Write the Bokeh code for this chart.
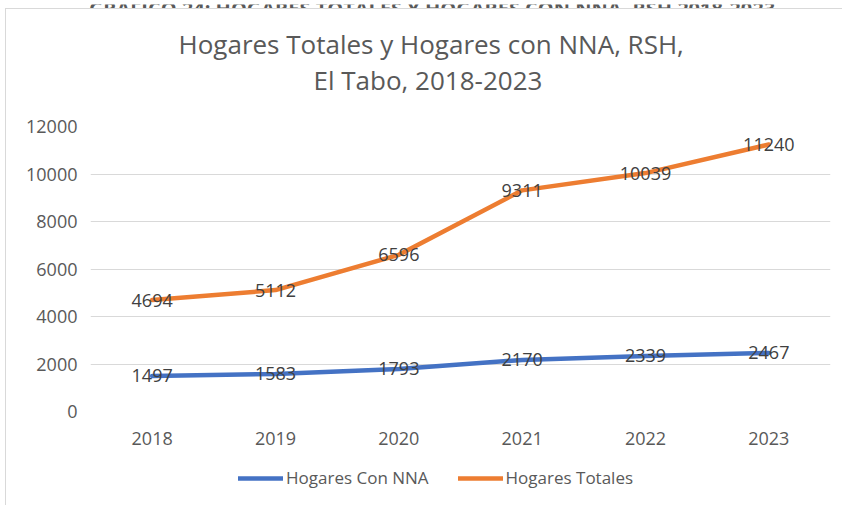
from bokeh.plotting import figure
from bokeh.layouts import column
from bokeh.models import Range1d, ColumnDataSource, Legend, LegendItem, Title
from bokeh.core.properties import value
from bokeh.embed import file_html
from bokeh.resources import INLINE

years = ["2018", "2019", "2020", "2021", "2022", "2023"]
hogares_nna = [1497, 1583, 1793, 2170, 2339, 2467]
hogares_totales = [4694, 5112, 6596, 9311, 10039, 11240]
y_ticks = [0, 2000, 4000, 6000, 8000, 10000, 12000]
doc_caption = "GRÁFICO 24: HOGARES TOTALES Y HOGARES CON NNA, RSH 2018-2023"
title_lines = ["Hogares Totales y Hogares con NNA, RSH,", "El Tabo, 2018-2023"]
series_names = ["Hogares Con NNA", "Hogares Totales"]

FONT = "Open Sans"
BLUE = "#4472C4"
ORANGE = "#ED7D31"
GRAY = "#595959"
BORDER = "1px solid #d9d9d9"

# --- strip above the chart box: document caption, cut off at the page top ---
cap = figure(width=837, height=8, x_range=Range1d(0, 1), y_range=Range1d(0, 1),
             x_axis_type=None, y_axis_type=None, output_backend="svg", toolbar_location=None,
             min_border=0)
cap.styles = {"margin-left": "5px"}
cap.outline_line_color = None
cap.background_fill_color = "white"
cap.border_fill_color = "white"
cap.xgrid.grid_line_color = None
cap.ygrid.grid_line_color = None
cap.text(x=[0.4628], y=[0.45], text=[doc_caption], text_align="center", text_baseline="alphabetic",
         text_font=value(FONT), text_font_size="20px", text_font_style="bold", text_color=GRAY)

# --- main chart ---
p = figure(width=837, height=447, x_range=years, y_range=Range1d(0, 12000),
           output_backend="svg", toolbar_location=None,
           min_border_left=84, min_border_right=13, min_border_top=117, min_border_bottom=45)
p.styles = {"border-left": BORDER, "border-top": BORDER, "margin-left": "5px"}
p.outline_line_color = None
p.background_fill_color = "white"
p.border_fill_color = "white"

p.xgrid.grid_line_color = None
p.ygrid.grid_line_color = "#d9d9d9"
p.ygrid.grid_line_width = 1
p.yaxis.ticker = y_ticks
for ax in (p.xaxis[0], p.yaxis[0]):
    ax.axis_line_color = None
    ax.major_tick_line_color = None
    ax.minor_tick_line_color = None
    ax.major_label_text_font = FONT
    ax.major_label_text_font_size = "18px"
    ax.major_label_text_color = GRAY
p.yaxis.major_label_standoff = 7
p.xaxis.major_label_standoff = 14

src = ColumnDataSource(dict(x=years, nna=hogares_nna, tot=hogares_totales,
                            nna_t=[str(v) for v in hogares_nna],
                            tot_t=[str(v) for v in hogares_totales]))

line_kw = dict(line_width=4.5, line_join="round", line_cap="round")
p.line("x", "nna", source=src, line_color=BLUE, **line_kw)
p.line("x", "tot", source=src, line_color=ORANGE, **line_kw)

for col, tcol in (("nna", "nna_t"), ("tot", "tot_t")):
    p.text(x="x", y=col, text=tcol, source=src, text_align="center", text_baseline="middle",
           text_font=value(FONT), text_font_size="18px", text_color="#404040")

# title: first added sits nearest the frame
for txt, so, off in ((title_lines[1], 58, 223), (title_lines[0], -62, 88)):
    p.add_layout(Title(text=txt, align="left", offset=off, standoff=so, text_font=FONT,
                       text_font_size="26px", text_font_style="normal", text_color=GRAY), "above")

# --- legend strip below the chart (series drawn out of view, used as legend keys) ---
lg = figure(width=837, height=50, x_range=years, y_range=Range1d(-2, -1),
            x_axis_type=None, y_axis_type=None, output_backend="svg", toolbar_location=None,
            min_border=0)
lg.styles = {"border-left": BORDER, "margin-left": "5px"}
lg.outline_line_color = None
lg.background_fill_color = "white"
lg.border_fill_color = "white"
lg.xgrid.grid_line_color = None
lg.ygrid.grid_line_color = None
k1 = lg.line("x", "nna", source=src, line_color=BLUE, **line_kw)
k2 = lg.line("x", "tot", source=src, line_color=ORANGE, **line_kw)
legend = Legend(items=[LegendItem(label=series_names[0], renderers=[k1]),
                       LegendItem(label=series_names[1], renderers=[k2])],
                orientation="horizontal", location=(148, 16))
legend.padding = 0
legend.margin = 0
legend.border_line_color = None
legend.background_fill_alpha = 0
legend.label_text_font = FONT
legend.label_text_font_size = "17px"
legend.label_text_color = GRAY
legend.glyph_width = 45
legend.glyph_height = 20
legend.label_height = 20
legend.label_standoff = 3
legend.spacing = 29
lg.add_layout(legend)

layout = column(cap, p, lg, spacing=0)
open("out.html", "w").write(file_html(layout, INLINE))
